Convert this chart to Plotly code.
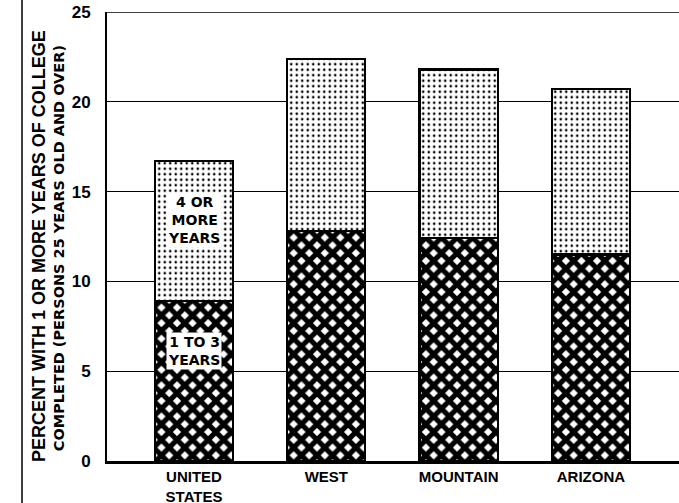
import plotly.graph_objects as go

categories = ["UNITED<br>STATES", "WEST", "MOUNTAIN", "ARIZONA"]
positions = [0, 1, 2, 3]
one_to_three_years = [8.9, 12.8, 12.4, 11.5]
four_or_more_years = [7.8, 9.6, 9.4, 9.2]
y_ticks = [0, 5, 10, 15, 20, 25]

FONT = "Liberation Sans"
WIDE = "DejaVu Sans"

fig = go.Figure()
fig.add_trace(go.Bar(
    x=positions, y=one_to_three_years, name="1 TO 3 YEARS", width=0.59,
    marker=dict(color="white", line=dict(color="black", width=2.2),
                pattern=dict(shape="x", fgcolor="black", bgcolor="white",
                             fgopacity=1, size=11, solidity=0.72)),
    showlegend=False))
fig.add_trace(go.Bar(
    x=positions, y=four_or_more_years, name="4 OR MORE YEARS", width=0.59,
    marker=dict(color="white", line=dict(color="black", width=2.2),
                pattern=dict(shape=".", fgcolor="black", bgcolor="white",
                             fgopacity=1, size=5.5, solidity=0.17)),
    showlegend=False))

fig.update_layout(
    barmode="stack",
    width=679, height=503,
    margin=dict(l=107, r=0, t=12, b=42, autoexpand=False),
    paper_bgcolor="white", plot_bgcolor="white",
    font=dict(family=FONT, color="black"),
    xaxis=dict(range=[-0.658, 3.666], tickvals=positions, ticktext=categories,
               showgrid=False, zeroline=False, showline=True, linecolor="black",
               linewidth=3, ticks="",
               tickfont=dict(size=15, family=FONT, weight="bold")),
    yaxis=dict(range=[0, 25], tickvals=y_ticks, showgrid=True, gridcolor="black",
               gridwidth=1.3, zeroline=False, showline=True, linecolor="black",
               linewidth=2, ticks="outside", ticklen=11, tickcolor="white",
               ticklabeloverflow="allow",
               tickfont=dict(size=17, family=FONT, weight="bold")),
)

# top frame line
fig.add_shape(type="line", xref="paper", yref="y", x0=0, x1=1, y0=25, y1=25,
              line=dict(color="black", width=1.5))
# page border on the left
fig.add_shape(type="line", xref="paper", yref="paper", x0=-0.1486, x1=-0.1486,
              y0=-0.12, y1=1.03, line=dict(color="black", width=1.5))

fig.add_annotation(xref="paper", yref="paper", x=-0.1189, y=0.479,
                   xanchor="center", yanchor="middle",
                   text="<b>PERCENT WITH 1 OR MORE YEARS OF COLLEGE</b>",
                   textangle=-90, showarrow=False,
                   font=dict(size=18, family=FONT))
fig.add_annotation(xref="paper", yref="paper", x=-0.0839, y=0.474,
                   xanchor="center", yanchor="middle",
                   text="<b>COMPLETED (PERSONS 25 YEARS OLD AND OVER)</b>",
                   textangle=-90, showarrow=False,
                   font=dict(size=14.5, family=WIDE))

fig.add_annotation(x=0, y=13.4, text="<b>4 OR<br>MORE<br>YEARS</b>",
                   showarrow=False, bgcolor="white", borderpad=1,
                   font=dict(size=14, family=WIDE))
fig.add_annotation(x=0, y=6.1, text="<b>1 TO 3<br>YEARS</b>",
                   showarrow=False, bgcolor="white", borderpad=1,
                   font=dict(size=14, family=WIDE))

fig.write_html("out.html", config={"displayModeBar": False},
               post_script="document.body.style.margin='0px';")
